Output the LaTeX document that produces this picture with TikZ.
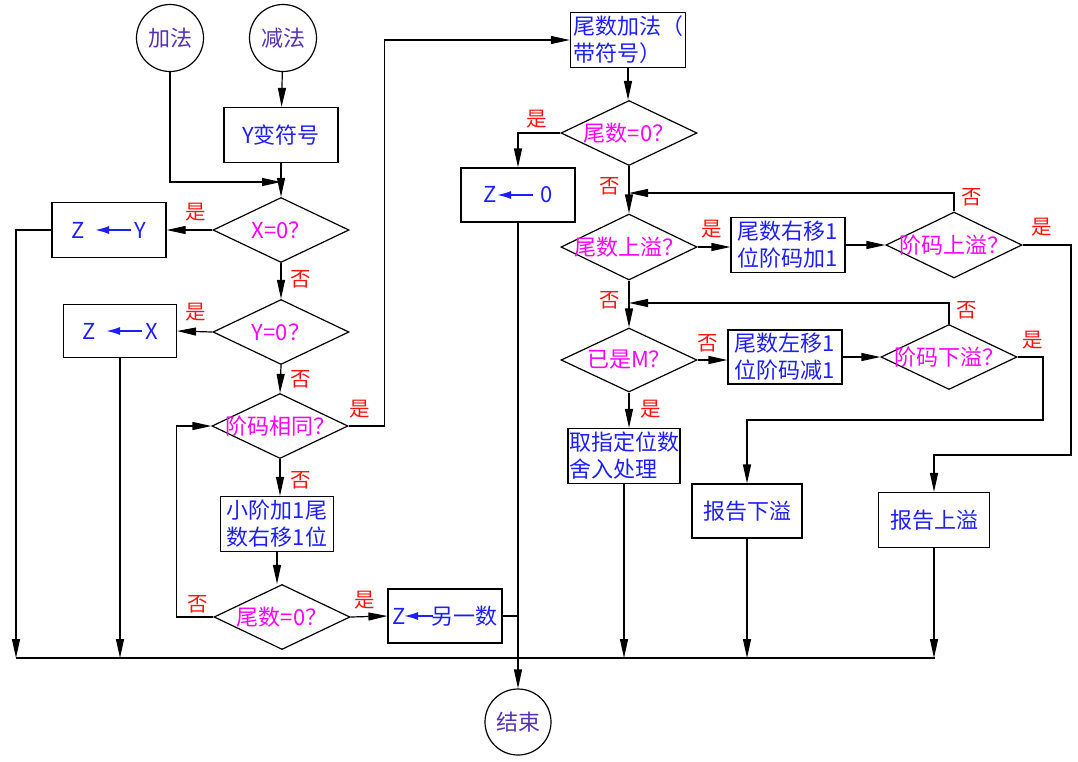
\documentclass[tikz,border=0pt]{standalone}
\usepackage{fontspec}
\setmainfont{Noto Sans CJK SC}
\usetikzlibrary{shapes.geometric,arrows.meta}
\definecolor{tblue}{RGB}{30,30,255}
\definecolor{tmag}{RGB}{255,0,255}
\definecolor{tred}{RGB}{255,20,20}
\definecolor{tpur}{RGB}{85,50,180}
\newcommand\fsA{\fontsize{22}{27}\selectfont}
\newcommand\fsL{\fontsize{20.5}{22}\selectfont}
\newcommand\dtx[1]{\makebox[0pt]{#1}}
\begin{document}
\begin{tikzpicture}[x=1pt,y=-1pt,
  every path/.style={line width=1.2pt},
  box/.style={draw, line width=1.2pt, inner sep=1pt, font=\fsA, text=tblue, align=center, minimum width=114, minimum height=55},
  decision/.style={diamond, draw, line width=1.2pt, inner sep=0pt, minimum width=136, minimum height=65, font=\fsA, text=tmag},
  term/.style={circle, draw, line width=1.2pt, minimum size=67, inner sep=0pt, font=\fsA, text=tpur},
  arr/.style={-{Triangle[length=19pt,width=8pt]}},
  zarr/.style={draw=tblue, line width=1.6pt, -{Latex[length=14pt,width=8pt]}},
  lab/.style={font=\fsL, text=tred, inner sep=0pt}]
\useasboundingbox (0,0) rectangle (1078,761);
% left part
\node[term] (add) at (170,38) {加法};
\node[term] (sub) at (283,38) {减法};
\node[box] (neg) at (281,135) {Y变符号};
\node[decision] (d1) at (281,230) {\dtx{X=0？}};
\node[box] (zy) at (109,230) {Z\hspace{50pt}Y};
\node[decision] (d2) at (281,332) {\dtx{Y=0？}};
\node[box, minimum width=113, minimum height=53] (zx) at (120,331) {Z\hspace{50pt}X};
\node[decision] (d3) at (280,426) {\dtx{阶码相同？}};
\node[box, minimum width=113] (shift) at (277,524) {小阶加1尾\\数右移1位};
\node[decision] (d4) at (282,617) {\dtx{尾数=0？}};
\node[box, minimum height=54] (zo) at (445,616) {Z\hspace{26pt}另一数};
\node[term, minimum size=66] (endc) at (518,722) {结束};
% right part
\node[box, align=left, minimum width=115] (madd) at (628,40) {尾数加法（\\带符号）};
\node[decision] (d5) at (629,133) {\dtx{尾数=0？}};
\node[box, minimum height=54] (z0) at (518,195) {Z\hspace{44pt}0};
\node[decision, minimum height=66] (d6) at (629,247) {\dtx{尾数上溢？}};
\node[box] (rs) at (788,245) {尾数右移1\\位阶码加1};
\node[decision, minimum height=66] (d7) at (954,245) {\dtx{阶码上溢？}};
\node[decision, minimum height=64] (d8) at (629,360) {\dtx{已是M？}};
\node[box, minimum height=54] (ls) at (785,357) {尾数左移1\\位阶码减1};
\node[decision] (d9) at (949,357) {\dtx{阶码下溢？}};
\node[box, align=left, minimum width=110] (rnd) at (624,456) {取指定位数\\舍入处理};
\node[box, minimum width=110, minimum height=54] (uf) at (747,511) {报告下溢};
\node[box, minimum width=111] (of) at (934,520) {报告上溢};
% inner arrows of assignment boxes
\draw[zarr] ([xshift=22pt]zy.center) -- ([xshift=-14pt]zy.center);
\draw[zarr] ([xshift=22pt]zx.center) -- ([xshift=-14pt]zx.center);
\draw[zarr] ([xshift=15pt]z0.center) -- ([xshift=-21pt]z0.center);
\draw[zarr] ([xshift=-12pt]zo.center) -- ([xshift=-41pt]zo.center);
% coordinates
\coordinate (j1) at (281,182);
\coordinate (bL) at (16,658);
\coordinate (bR) at (935,658);
\coordinate (j2) at (629,193);
\coordinate (j3) at (629,303);
\coordinate (r1) at (1071,455);
\coordinate (r2) at (1043,420);
% bus
\draw (bL) -- (bR);
% left connectors
\draw[arr] (add.south) |- (j1);
\draw[arr] (sub) -- (neg);
\draw[arr] (neg) -- (d1);
\draw[arr] (d1.west) -- (zy.east);
\draw[arr] (zy.west) -| (bL);
\draw[arr] (d1.south) -- (d2.north);
\draw[arr] (d2.west) -- (zx.east);
\draw[arr] (zx.south) -- (zx.south |- bL);
\draw[arr] (d2.south) -- (d3.north);
\draw[arr] (d3.east) -- ++(36,0) |- (madd.west);
\draw[arr] (d3.south) -- (d3.south |- shift.north);
\draw[arr] (shift.south) -- (shift.south |- d4.north);
\draw[arr] (d4.west) -- ++(-37,0) |- (d3.west);
\draw[arr] (d4.east) -- (zo.west);
\draw (zo.east) -- (zo.east -| z0.south);
\draw[arr] (z0.south) -- (endc.north);
% right connectors
\draw[arr] (madd.south) -- (madd.south |- d5.north);
\draw[arr] (d5.west) -| (z0.north);
\draw[arr] (d5.south) -- (d6.north);
\draw[arr] (d7.north) |- (j2);
\draw[arr] (d6.east) -- (d6.east -| rs.west);
\draw[arr] (rs.east) -- (d7.west);
\draw[arr] (d7.east) -| (r1) -| (of.north);
\draw[arr] (d6.south) -- (d8.north);
\draw[arr] (d9.north) |- (j3);
\draw[arr] (d8.east) -- (d8.east -| ls.west);
\draw[arr] (ls.east) -- (d9.west);
\draw[arr] (d9.east) -| (r2) -| (uf.north);
\draw[arr] (d8.south) -- (d8.south |- rnd.north);
\draw[arr] (rnd.south) -- (rnd.south |- bL);
\draw[arr] (uf.south) -- (uf.south |- bL);
\draw[arr] (of.south) -- (of.south |- bL);
% labels
\node[lab] (l1) at (196,212) {是};
\node[lab] (l2) at (301,279) {否};
\node[lab] (l3) at (196,312) {是};
\node[lab] (l4) at (301,379) {否};
\node[lab] (l5) at (360,409) {是};
\node[lab] (l6) at (301,480) {否};
\node[lab] (l7) at (198,604) {否};
\node[lab] (l8) at (365,600) {是};
\node[lab] (l9) at (537,119) {是};
\node[lab] (l10) at (610,186) {否};
\node[lab] (l11) at (712,229) {是};
\node[lab] (l12) at (972,197) {否};
\node[lab] (l13) at (1042,227) {是};
\node[lab] (l14) at (610,300) {否};
\node[lab] (l15) at (708,343) {否};
\node[lab] (l16) at (967,310) {否};
\node[lab] (l17) at (1033,340) {是};
\node[lab] (l18) at (651,409) {是};
\end{tikzpicture}
\end{document}
